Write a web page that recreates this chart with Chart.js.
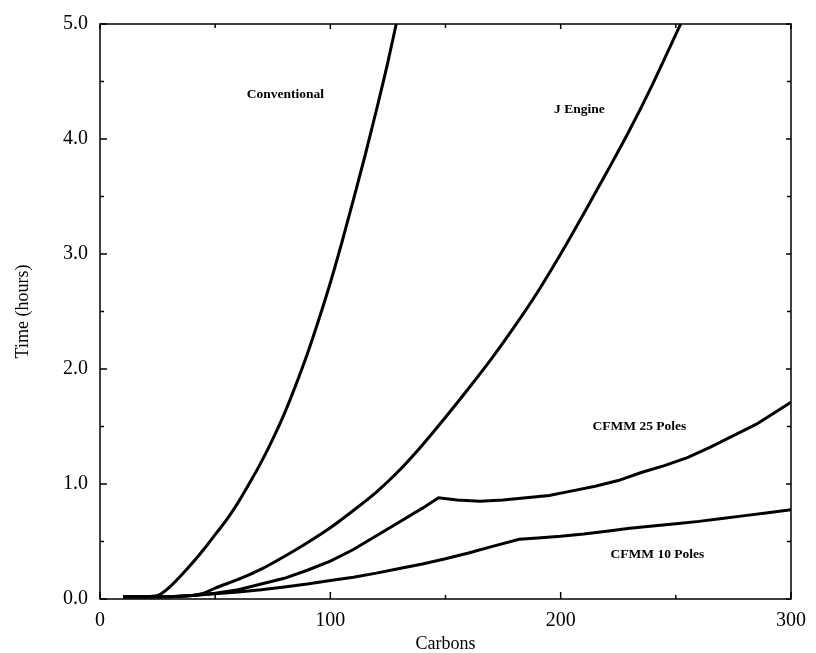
<!DOCTYPE html>
<html>
<head>
<meta charset="utf-8">
<script src="https://cdn.jsdelivr.net/npm/chart.js@4.4.1/dist/chart.umd.min.js"></script>
<style>
  html,body{margin:0;padding:0;background:#fff}
</style>
</head>
<body>
<canvas id="chart" width="816" height="653"></canvas>
<script>
// values (carbons -> hours)
const convX = [10,20,25,30,35,40,45,50,55,60,65,70,75,80,85,90,95,100,105,110,115,120,125,128.6];
const convY = [0.02,0.02,0.03,0.10,0.20,0.31,0.43,0.56,0.69,0.84,1.01,1.19,1.39,1.61,1.86,2.13,2.43,2.75,3.10,3.47,3.85,4.25,4.67,5.0];

const jX = [10,20,30,40,45,50,60,70,80,90,100,110,120,130,140,150,160,170,180,190,200,210,220,230,240,250,252.1];
const jY = [0.02,0.02,0.02,0.03,0.05,0.095,0.17,0.26,0.37,0.49,0.62,0.77,0.93,1.12,1.34,1.58,1.83,2.09,2.37,2.67,3.00,3.35,3.71,4.08,4.48,4.91,5.0];

const c25X = [10,20,30,40,50,60,70,80,90,100,110,120,130,140,147,155,165,175,185,195,205,215,225,235,245,255,265,275,285,300];
const c25Y = [0.02,0.02,0.02,0.03,0.05,0.08,0.13,0.18,0.25,0.33,0.43,0.55,0.67,0.79,0.88,0.86,0.85,0.86,0.88,0.90,0.94,0.98,1.03,1.10,1.16,1.23,1.32,1.42,1.52,1.71];

const c10X = [10,20,30,40,50,60,70,80,90,100,110,120,130,140,150,160,170,182,190,200,210,220,230,240,250,260,270,280,290,300];
const c10Y = [0.02,0.02,0.02,0.03,0.045,0.06,0.08,0.105,0.13,0.16,0.19,0.225,0.265,0.305,0.35,0.40,0.455,0.52,0.53,0.545,0.565,0.59,0.615,0.635,0.655,0.675,0.70,0.725,0.75,0.776];

const xTicks = [0,100,200,300];
const xMinor = [50,150,250];
const yTicks = [0,1,2,3,4,5];
const yTickLabels = ["0.0","1.0","2.0","3.0","4.0","5.0"];
const yMinor = [0.5,1.5,2.5,3.5,4.5];

const curveNames = ["Conventional","J Engine","CFMM 25 Poles","CFMM 10 Poles"];
const nameAtX = [80.5,208.1,234.2,242];
const nameAtY = [4.39,4.26,1.50,0.387];

const serif = "'Liberation Serif','Times New Roman',serif";

function pts(xs, ys){ return xs.map((x,i)=>({x, y:ys[i]})); }

function series(label, xs, ys, smooth){
  return {
    label, data: pts(xs, ys),
    borderColor:"#000", borderWidth:3, pointRadius:0,
    fill:false, tension:0,
    cubicInterpolationMode: smooth ? "monotone" : "default"
  };
}

// box, inward ticks and curve names
const frame = {
  id:"frame",
  afterDraw(c){
    const ctx = c.ctx, a = c.chartArea, x = c.scales.x, y = c.scales.y;
    ctx.save();
    ctx.strokeStyle = "#000";
    ctx.lineWidth = 1.5;
    ctx.strokeRect(a.left, a.top, a.right-a.left, a.bottom-a.top);
    const seg = (x1,y1,x2,y2)=>{ ctx.beginPath(); ctx.moveTo(x1,y1); ctx.lineTo(x2,y2); ctx.stroke(); };
    xTicks.forEach(v=>{ const p = x.getPixelForValue(v); seg(p,a.bottom,p,a.bottom-7); seg(p,a.top,p,a.top+5); });
    xMinor.forEach(v=>{ const p = x.getPixelForValue(v); seg(p,a.bottom,p,a.bottom-4); seg(p,a.top,p,a.top+4); });
    yTicks.forEach(v=>{ const p = y.getPixelForValue(v); seg(a.left,p,a.left+7,p); seg(a.right,p,a.right-5,p); });
    yMinor.forEach(v=>{ const p = y.getPixelForValue(v); seg(a.left,p,a.left+4,p); seg(a.right,p,a.right-4,p); });

    ctx.fillStyle = "#000";
    ctx.font = "bold 13.5px " + serif;
    ctx.textAlign = "center";
    ctx.textBaseline = "middle";
    curveNames.forEach((t,i)=>{
      ctx.fillText(t, x.getPixelForValue(nameAtX[i]), y.getPixelForValue(nameAtY[i]));
    });
    ctx.restore();
  }
};

new Chart(document.getElementById("chart"), {
  type:"line",
  data:{ datasets:[
    series("Conventional", convX, convY, true),
    series("J Engine", jX, jY, true),
    series("CFMM 25 Poles", c25X, c25Y, false),
    series("CFMM 10 Poles", c10X, c10Y, false)
  ]},
  options:{
    responsive:false,
    animation:false,
    layout:{ padding:{ top:22, right:18, left:0, bottom:0 } },
    plugins:{ legend:{ display:false }, tooltip:{ enabled:false } },
    scales:{
      x:{
        type:"linear", min:0, max:300,
        afterFit(s){ s.height = 54; },
        grid:{ display:false, drawTicks:false },
        border:{ display:false },
        afterBuildTicks(s){ s.ticks = xTicks.map(v=>({value:v})); },
        ticks:{ color:"#000", padding:10, maxRotation:0, font:{ family:serif, size:20 },
          callback:v=>String(v) },
        title:{ display:true, text:"Carbons", color:"#000", padding:{top:0,bottom:0},
          font:{ family:serif, size:18, lineHeight:1.0 } }
      },
      y:{
        type:"linear", min:0, max:5,
        afterFit(s){ s.width = 100; },
        grid:{ display:false, drawTicks:false },
        border:{ display:false },
        afterBuildTicks(s){ s.ticks = yTicks.map(v=>({value:v})); },
        ticks:{ color:"#000", padding:12, font:{ family:serif, size:20 },
          callback:v=>yTickLabels[yTicks.indexOf(v)] },
        title:{ display:true, text:"Time (hours)", color:"#000", padding:{top:14,bottom:0},
          font:{ family:serif, size:18, lineHeight:1.0 } }
      }
    }
  },
  plugins:[frame]
});
</script>
</body>
</html>
